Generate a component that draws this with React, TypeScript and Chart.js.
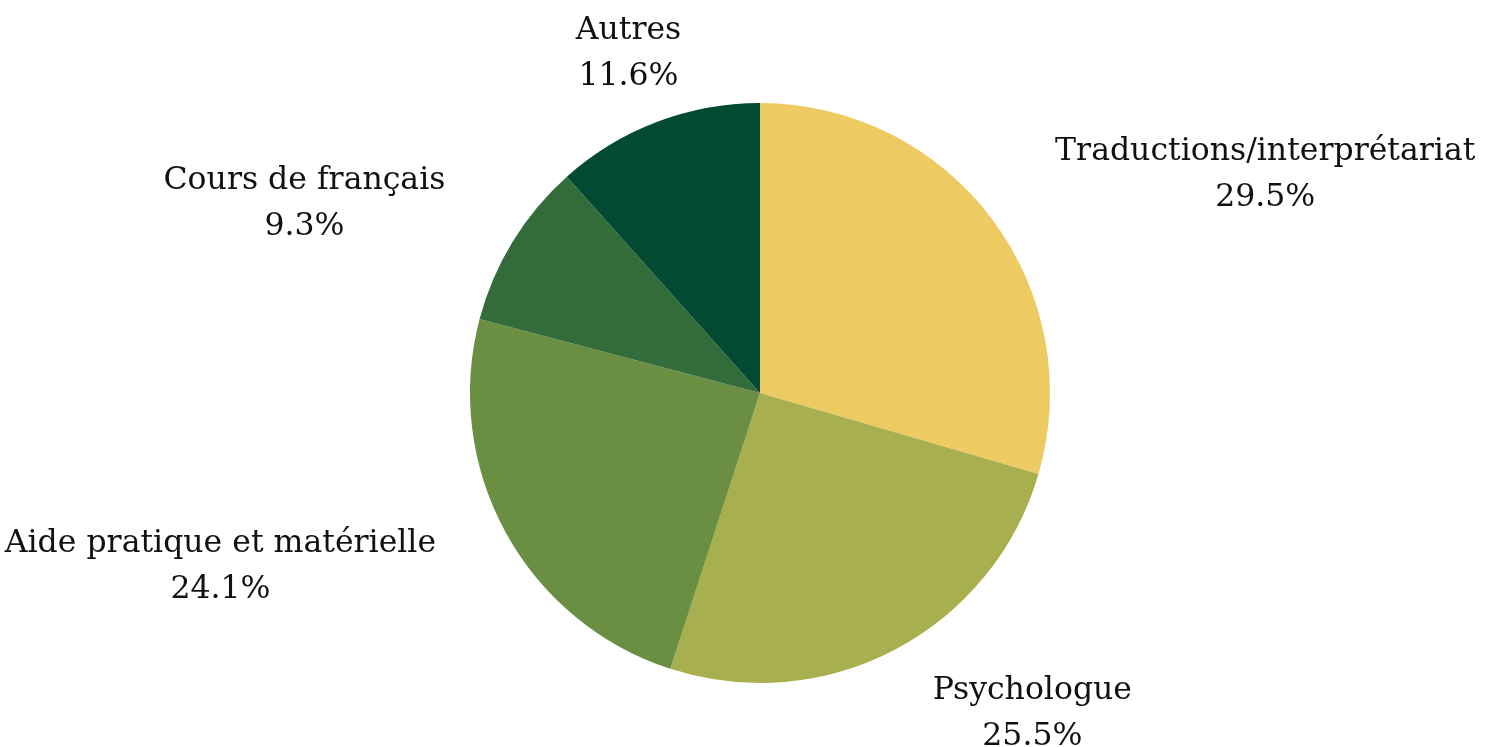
import React, { useEffect, useRef } from "react";
import { Chart, registerables } from "chart.js";

Chart.register(...registerables);

const categories = [
  "Traductions/interprétariat",
  "Psychologue",
  "Aide pratique et matérielle",
  "Cours de français",
  "Autres",
];
const values = [29.5, 25.5, 24.1, 9.3, 11.6];
const colors = ["#EDCA62", "#A8AF4F", "#6A8E42", "#336B3A", "#024A32"];

const FONT_FAMILY = "'DejaVu Serif', serif";
const FONT_SIZE = 31.5;
const LINE_HEIGHT = 46;
const LABEL_OFFSET_X = 79;
const LABEL_OFFSET_Y = 73;

const outsideLabels = {
  id: "outsideLabels",
  afterDraw(chart: any) {
    const ctx = chart.ctx;
    const meta = chart.getDatasetMeta(0);
    ctx.save();
    ctx.font = `${FONT_SIZE}px ${FONT_FAMILY}`;
    ctx.fillStyle = "#111111";
    ctx.textBaseline = "middle";
    meta.data.forEach((arc: any, i: number) => {
      const { x, y, startAngle, endAngle, outerRadius } = arc.getProps(
        ["x", "y", "startAngle", "endAngle", "outerRadius"],
        true
      );
      const mid = (startAngle + endAngle) / 2;
      const ax = x + Math.cos(mid) * (outerRadius + LABEL_OFFSET_X);
      const ay = y + Math.sin(mid) * (outerRadius + LABEL_OFFSET_Y);
      const lines = [categories[i], values[i].toFixed(1) + "%"];
      const w = Math.max(...lines.map((l) => ctx.measureText(l).width));
      const c = Math.cos(mid);
      let cx = ax;
      if (c > 0.4) cx = ax + w / 2;
      else if (c < -0.4) cx = ax - w / 2;
      ctx.textAlign = "center";
      const top = ay - ((lines.length - 1) * LINE_HEIGHT) / 2;
      lines.forEach((l, k) => ctx.fillText(l, cx, top + k * LINE_HEIGHT));
    });
    ctx.restore();
  },
};

export default function App() {
  const ref = useRef<HTMLCanvasElement | null>(null);
  useEffect(() => {
    document.body.style.margin = "0";
    const chart = new Chart(ref.current as HTMLCanvasElement, {
      type: "pie",
      data: {
        labels: categories,
        datasets: [
          {
            data: values,
            backgroundColor: colors,
            borderWidth: 0,
          },
        ],
      },
      options: {
        animation: false,
        responsive: false,
        maintainAspectRatio: false,
        layout: { padding: { top: 103, bottom: 64, left: 470, right: 448 } },
        plugins: {
          legend: { display: false },
          tooltip: { enabled: false },
        },
      },
      plugins: [outsideLabels],
    });
    return () => chart.destroy();
  }, []);
  return (
    <div style={{ width: 1498, height: 747, background: "#ffffff" }}>
      <canvas ref={ref} width={1498} height={747} />
    </div>
  );
}
